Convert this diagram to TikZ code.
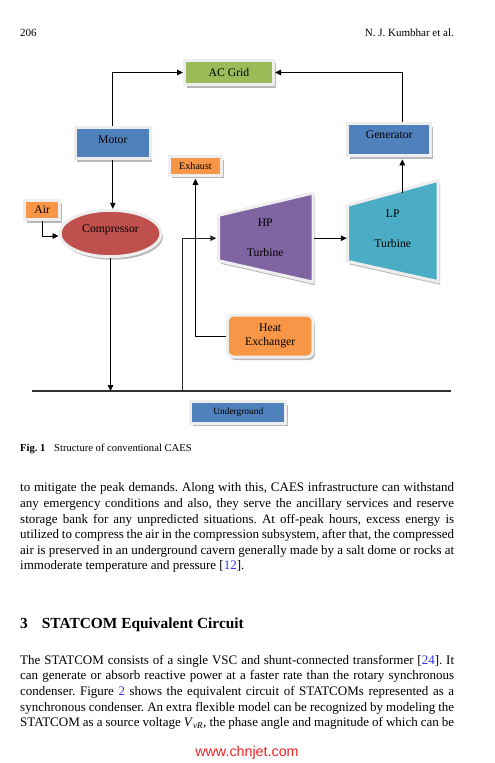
\documentclass[tikz,border=0pt]{standalone}
\usepackage{fontspec}
\setmainfont{Liberation Serif}
\newfontfamily\wmfont{Liberation Sans}
\usetikzlibrary{arrows.meta,shadows,shapes.geometric}
\definecolor{ogreen}{HTML}{9BBB59}
\definecolor{oblue}{HTML}{4F81BD}
\definecolor{ored}{HTML}{C0504D}
\definecolor{opurple}{HTML}{8064A2}
\definecolor{oaqua}{HTML}{4BACC6}
\definecolor{oorange}{HTML}{F79646}
\definecolor{framec}{HTML}{EEEEEE}
\definecolor{citec}{HTML}{3333EE}
\definecolor{wmred}{HTML}{EE2222}
\newcommand\jline[1]{\makebox[434pt][s]{#1}}
\newcommand\refc[1]{[\textcolor{citec}{#1}]}
\frenchspacing
\begin{document}
\begin{tikzpicture}[x=1pt,y=-1pt,
  conn/.style={line width=0.9pt, -{Triangle[length=6pt,width=5.5pt]}},
  frame/.style={draw=framec, line width=3pt, inner sep=0pt,
    drop shadow={shadow xshift=2pt, shadow yshift=-3pt, fill=black, opacity=0.28}},
  dfont/.style={font=\fontsize{11.7}{14}\selectfont},
  body/.style={anchor=base west, inner sep=0pt, font=\fontsize{13}{15.6}\selectfont},
]
\useasboundingbox (0,0) rectangle (495,763);

% header
\node[anchor=base west, inner sep=0pt, font=\fontsize{11}{13}\selectfont] (pg) at (20,36.5) {206};
\node[anchor=base east, inner sep=0pt, font=\fontsize{11}{13}\selectfont] (au) at (454,36.5) {N. J. Kumbhar et al.};

% boxes
\node[frame, dfont, fill=ogreen, minimum width=89, minimum height=24.5] (acgrid) at (229,72.5) {AC Grid};
\node[frame, dfont, fill=oblue, minimum width=75.3, minimum height=31.3, text depth=8pt] (motor) at (112.8,143.2) {Motor};
\node[frame, dfont, fill=oblue, minimum width=82.7, minimum height=32.3, text depth=11pt] (generator) at (389.2,139.7) {Generator};
\node[frame, fill=oorange, minimum width=52, minimum height=18.5, font=\fontsize{10.1}{12}\selectfont] (exhaust) at (195.5,166) {Exhaust};
\node[frame, dfont, fill=oorange, minimum width=35.3, minimum height=19.6] (air) at (42.2,210) {Air};
\node[frame, dfont, ellipse, fill=ored, minimum width=101, minimum height=46.4, text depth=10pt] (compressor) at (110.5,233.5) {Compressor};
\node[frame, dfont, fill=oorange, rounded corners=6pt, minimum width=85.5, minimum height=41.8, align=center] (heatex) at (270.2,336.1) {Heat\\Exchanger};
\node[frame, fill=oblue, minimum width=95, minimum height=21.4, font=\fontsize{9.4}{11}\selectfont] (underground) at (238.3,412.5) {Underground};

% turbines
\path[frame, fill=opurple] (218.5,215.3) -- (313.2,193) -- (313.2,282.2) -- (218.5,260.7) -- cycle;
\path[frame, fill=oaqua] (347.5,205.3) -- (438.2,180.3) -- (438.2,281.7) -- (347.5,261.4) -- cycle;
\node[dfont, inner sep=0pt, minimum width=97.5, minimum height=60, align=center] (hp) at (265.25,238.2) {HP\\[16pt]Turbine};
\node[dfont, inner sep=0pt, minimum width=91.5, minimum height=60, align=center] (lp) at (392.75,228.3) {LP\\[16pt]Turbine};
\coordinate (lptop) at (402.3,192.5);

% ground line
\coordinate (gl) at (32.3,391);
\coordinate (gr) at (450.7,391);
\coordinate (hpfeed) at (182,391);
\draw[line width=1.1pt, black!80] (gl) -- (gr);

% connectors
\draw[conn] (motor.north) |- (acgrid.west);
\draw[conn] (lptop |- generator.north) |- (acgrid.east);
\draw[conn] (motor.south) -- (motor.south |- compressor.north);
\draw[conn] (air.south) |- ([yshift=-2.5pt]compressor.west);
\draw[conn] (compressor.south) -- (compressor.south |- gl);
\draw[conn, black!85] (hpfeed) |- (hp.west);
\draw[conn, shorten >=2pt] (heatex.west) -| (exhaust.south);
\draw[conn] (hp.east) -- (hp.east -| lp.west);
\draw[conn, shorten >=2pt] (lptop) -- (lptop |- generator.south);

% caption
\node[anchor=base west, inner sep=0pt, font=\fontsize{10.6}{12}\selectfont\bfseries] (figno) at (20,451) {Fig. 1};
\node[anchor=base west, inner sep=0pt, font=\fontsize{10.6}{12}\selectfont] (figcap) at (54,451) {Structure of conventional CAES};

% paragraph 1
\node[body] (a1) at (20,491.7) {\jline{to mitigate the peak demands. Along with this, CAES infrastructure can withstand}};
\node[body] (a2) at (20,507.35) {\jline{any emergency conditions and also, they serve the ancillary services and reserve}};
\node[body] (a3) at (20,523.0) {\jline{storage bank for any unpredicted situations. At off-peak hours, excess energy is}};
\node[body] (a4) at (20,538.65) {\jline{utilized to compress the air in the compression subsystem, after that, the compressed}};
\node[body] (a5) at (20,554.3) {\jline{air is preserved in an underground cavern generally made by a salt dome or rocks at}};
\node[body] (a6) at (20,569.95) {immoderate temperature and pressure \refc{12}.};

% heading
\node[anchor=base west, inner sep=0pt, font=\fontsize{15.4}{18}\selectfont\bfseries] (secno) at (20,628.5) {3};
\node[anchor=base west, inner sep=0pt, font=\fontsize{15.4}{18}\selectfont\bfseries] (sectitle) at (41.7,628.5) {STATCOM Equivalent Circuit};

% paragraph 2
\node[body] (b1) at (20,664.3) {\jline{The STATCOM consists of a single VSC and shunt-connected transformer \refc{24}. It}};
\node[body] (b2) at (20,679.9) {\jline{can generate or absorb reactive power at a faster rate than the rotary synchronous}};
\node[body] (b3) at (20,695.5) {\jline{condenser. Figure \textcolor{citec}{2} shows the equivalent circuit of STATCOMs represented as a}};
\node[body] (b4) at (20,711.1) {\jline{synchronous condenser. An extra flexible model can be recognized by modeling the}};
\node[body] (b5) at (20,726.7) {\jline{STATCOM as a source voltage \textit{V}\textsubscript{\textit{vR}}, the phase angle and magnitude of which can be}};

% watermark
\node[anchor=base, inner sep=0pt, font=\wmfont\fontsize{14.3}{16}\selectfont, text=wmred] (wm) at (247,756) {www.chnjet.com};
\end{tikzpicture}
\end{document}
